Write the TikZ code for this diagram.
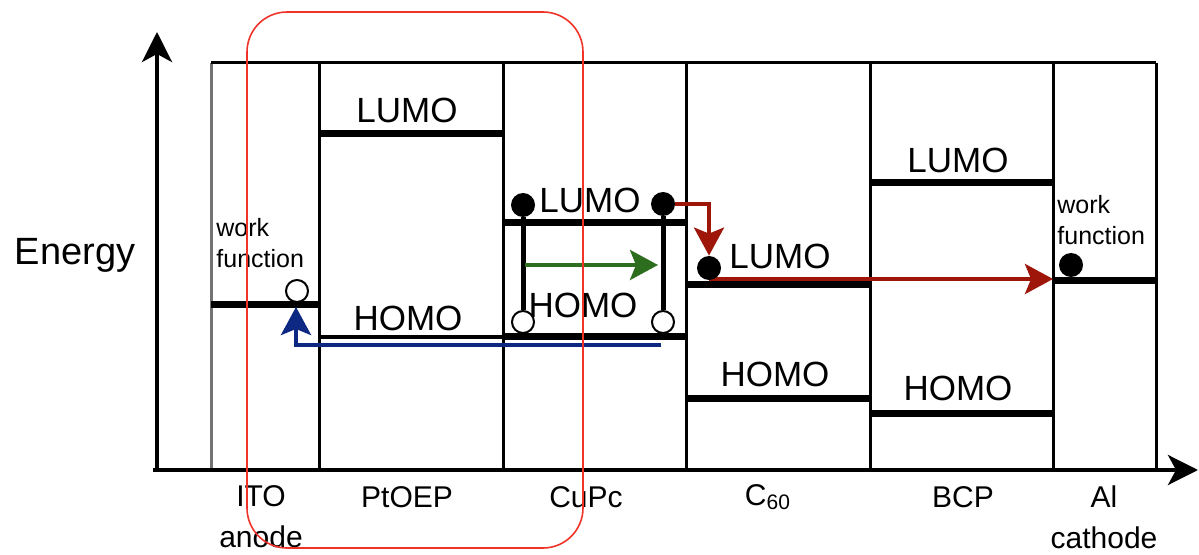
\documentclass[tikz,border=0pt]{standalone}
\usepackage{fontspec}
\setmainfont{Liberation Sans}
\usetikzlibrary{arrows.meta}
\definecolor{flowred}{RGB}{158,22,10}
\definecolor{flowgreen}{RGB}{45,110,30}
\definecolor{flowblue}{RGB}{12,40,130}
\definecolor{boxred}{RGB}{240,50,40}

\begin{document}
\begin{tikzpicture}[
  x=0.5pt, y=-0.5pt,
  every node/.style={font=\fontsize{17.5}{20}\selectfont, inner sep=1pt},
  layer/.style={line width=1.5pt},
  level/.style={line width=3.5pt},
  small/.style={font=\fontsize{12.5}{15.5}\selectfont, align=left, anchor=west, inner sep=0pt},
  material/.style={font=\fontsize{15}{20.5}\selectfont, align=center, inner sep=0pt},
  electron/.style={circle, fill=black, inner sep=0pt, minimum size=12pt},
  hole/.style={circle, draw, fill=white, line width=1pt, inner sep=0pt, minimum size=11pt},
  stem/.style={line width=2.5pt},
  axis/.style={-{Stealth[length=15pt, width=15pt, inset=4pt]}, line width=2pt},
  arrow/.style={-{Stealth[length=14pt, width=15pt, inset=3pt]}, line width=2pt}
]
\useasboundingbox (0,0) rectangle (1199,555);

\draw[layer, black!55] (211,470) -- (211,63);
\draw[layer] (211,63) -- (1156,63);
\draw[layer] (319,63) -- (319,470);
\draw[layer] (503,63) -- (503,470);
\draw[layer] (686,63) -- (686,470);
\draw[layer] (870,63) -- (870,470);
\draw[layer] (1053,63) -- (1053,470);
\draw[layer] (1156,63) -- (1156,470);

\draw[axis] (157,472) -- (157,32);
\draw[axis] (153,470) -- (1198,470);

\draw[level] (211,305) -- (319,305);
\draw[level] (319,134) -- (503,134);
\draw[level, line width=2pt] (319,337) -- (503,337);
\draw[level] (503,223) -- (686,223);
\draw[level] (503,337) -- (686,337);
\draw[level] (686,285) -- (870,285);
\draw[level] (686,399) -- (870,399);
\draw[level] (870,183) -- (1053,183);
\draw[level] (870,414) -- (1053,414);
\draw[level] (1053,281) -- (1156,281);

\node[font=\fontsize{19}{22}\selectfont] (energy) at (75,255) {Energy};
\node (ptoeplumo) at (407,110) {LUMO};
\node (ptoephomo) at (408,318) {HOMO};
\node (cupclumo) at (590,200) {LUMO};
\node (cupchomo) at (583,305) {HOMO};
\node (c60lumo) at (780,256) {LUMO};
\node (c60homo) at (775,374) {HOMO};
\node (bcplumo) at (958,160) {LUMO};
\node (bcphomo) at (958,388) {HOMO};
\node[small] (itowf) at (216,243) {work\\function};
\node[small] (alwf) at (1057,220) {work\\function};

\node[material] (ito) at (261,517) {ITO\\anode};
\node[material] (ptoep) at (407,497) {PtOEP};
\node[material] (cupc) at (586,497) {CuPc};
\node[material] (c60) at (768,497) {C\textsubscript{60}};
\node[material] (bcp) at (963,497) {BCP};
\node[material] (al) at (1104,517) {Al\\cathode};

\coordinate (greenstart) at (525,265);
\coordinate (greenend) at (658,265);
\coordinate (bluestart) at (661,345);
\coordinate (itolevel) at (296,307);
\coordinate (allevel) at (1053,279);

\draw[arrow, flowred] (709,279) -- (allevel);
\draw[arrow, flowblue] (bluestart) -| (itolevel);

\node[electron] (cupce1) at (523,205) {};
\node[electron] (cupce2) at (663,204) {};
\node[electron] (c60e) at (709,268) {};
\node[electron] (ale) at (1071,265) {};
\node[hole] (itoh) at (297,291) {};
\node[hole] (cupch1) at (523,322) {};
\node[hole] (cupch2) at (663,322) {};

\draw[stem] (cupce1) -- (cupch1);
\draw[stem] (cupce2) -- (cupch2);
\draw[arrow, flowgreen] (greenstart) -- (greenend);
\draw[arrow, flowred] (cupce2.east) -| (c60e.north);

\draw[boxred, line width=0.8pt, rounded corners=20pt] (247,12) rectangle (583,548);
\end{tikzpicture}
\end{document}
